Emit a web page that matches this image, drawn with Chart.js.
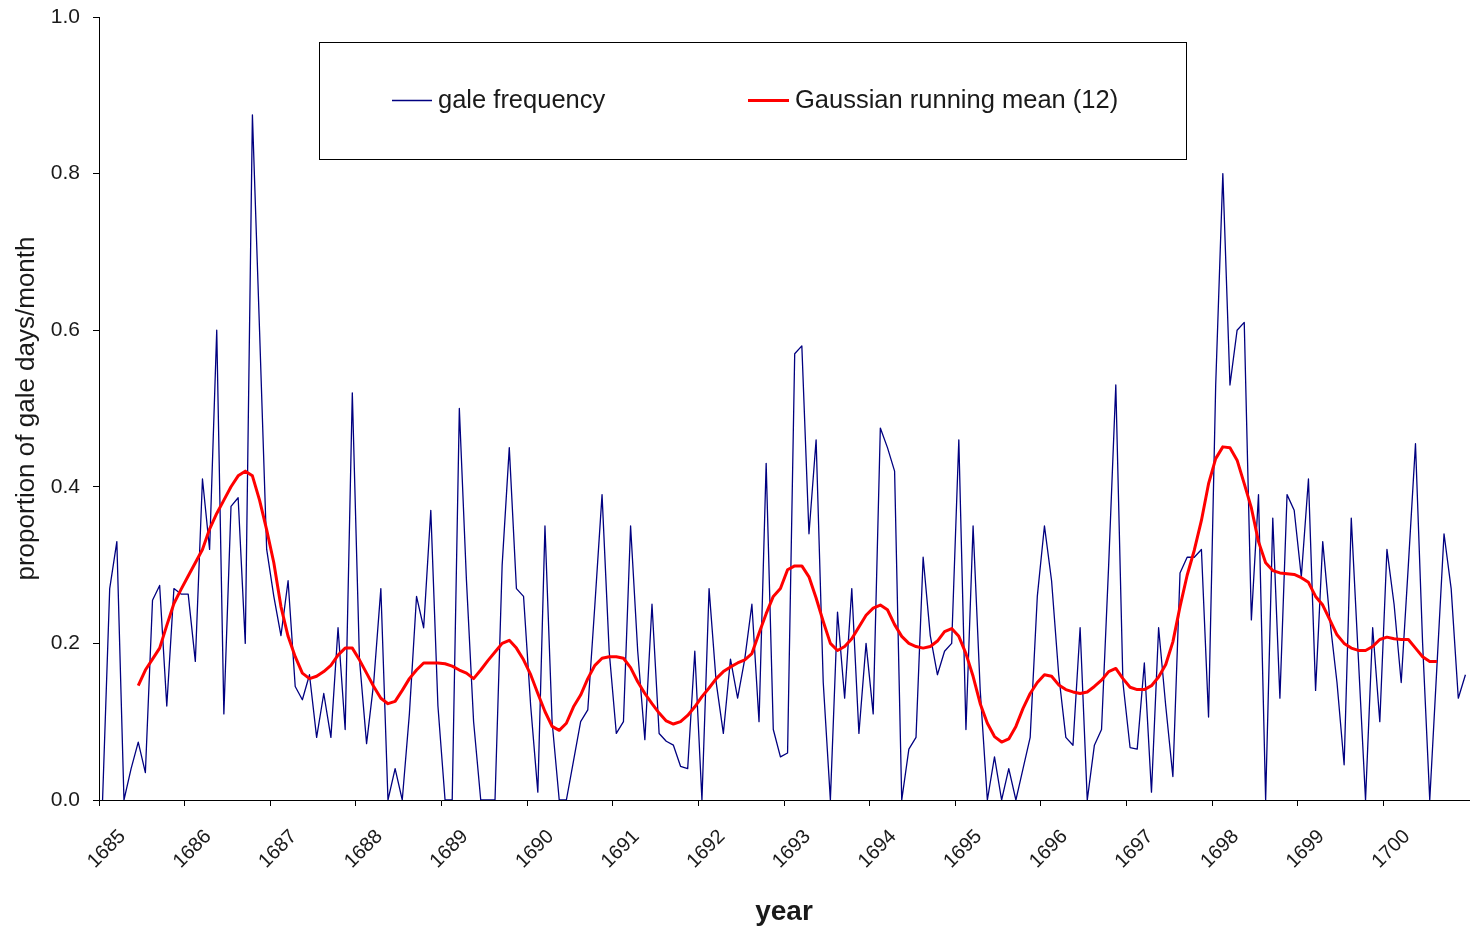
<!DOCTYPE html>
<html>
<head>
<meta charset="utf-8">
<title>Gale frequency 1685-1700</title>
<script src="https://cdn.jsdelivr.net/npm/chart.js@4.4.1/dist/chart.umd.min.js"></script>
<style>
  html, body { margin: 0; padding: 0; background: #fff; }
  #wrap { width: 1472px; height: 934px; position: relative; }
</style>
</head>
<body>
<div id="wrap"><canvas id="galeChart"></canvas></div>
<script>
// tick labels (one per year) and monthly categories
const tickYears = ['1685', '1686', '1687', '1688', '1689', '1690', '1691', '1692',
                   '1693', '1694', '1695', '1696', '1697', '1698', '1699', '1700'];
const monthNums = ['01', '02', '03', '04', '05', '06', '07', '08', '09', '10', '11', '12'];
const months = tickYears.flatMap(y => monthNums.map(m => y + '-' + m));

// proportion of gale days per month
const galeFrequency = [
  0.0, 0.27, 0.33, 0.0, 0.04, 0.074, 0.035, 0.255, 0.274, 0.12, 0.27, 0.263,
  0.263, 0.177, 0.41, 0.32, 0.6, 0.11, 0.375, 0.386, 0.2, 0.875, 0.6, 0.32,
  0.26, 0.21, 0.28, 0.145, 0.128, 0.16, 0.08, 0.136, 0.08, 0.22, 0.09, 0.52,
  0.18, 0.072, 0.15, 0.27, 0.0, 0.04, 0.0, 0.11, 0.26, 0.22, 0.37, 0.12,
  0.0, 0.0, 0.5, 0.28, 0.1, 0.0, 0.0, 0.0, 0.3, 0.45, 0.27, 0.26,
  0.12, 0.01, 0.35, 0.1, 0.0, 0.0, 0.05, 0.1, 0.115, 0.25, 0.39, 0.19,
  0.085, 0.1, 0.35, 0.19, 0.077, 0.25, 0.085, 0.075, 0.07, 0.043, 0.04, 0.19,
  0.0, 0.27, 0.15, 0.085, 0.18, 0.13, 0.18, 0.25, 0.1, 0.43, 0.09, 0.055,
  0.06, 0.57, 0.58, 0.34, 0.46, 0.15, 0.0, 0.24, 0.13, 0.27, 0.085, 0.2,
  0.11, 0.475, 0.45, 0.42, 0.0, 0.065, 0.08, 0.31, 0.21, 0.16, 0.19, 0.2,
  0.46, 0.09, 0.35, 0.14, 0.0, 0.055, 0.0, 0.04, 0.0, 0.04, 0.08, 0.26,
  0.35, 0.28, 0.16, 0.08, 0.07, 0.22, 0.0, 0.07, 0.09, 0.3, 0.53, 0.15,
  0.067, 0.065, 0.175, 0.01, 0.22, 0.12, 0.03, 0.29, 0.31, 0.31, 0.32, 0.106,
  0.53, 0.8, 0.53, 0.6, 0.61, 0.23, 0.39, 0.0, 0.36, 0.13, 0.39, 0.37,
  0.285, 0.41, 0.14, 0.33, 0.23, 0.15, 0.045, 0.36, 0.18, 0.0, 0.22, 0.1,
  0.32, 0.25, 0.15, 0.3, 0.455, 0.2, 0.0, 0.17, 0.34, 0.27, 0.13, 0.16
];

// Gaussian running mean (12), no value at the ends
const runningMean = [
  null, null, null, null, null, 0.146, 0.166, 0.18, 0.194, 0.223, 0.251, 0.269,
  0.286, 0.303, 0.32, 0.346, 0.366, 0.383, 0.4, 0.414, 0.42, 0.414, 0.383, 0.345,
  0.303, 0.247, 0.209, 0.183, 0.162, 0.155, 0.158, 0.164, 0.172, 0.185, 0.194, 0.194,
  0.179, 0.162, 0.145, 0.13, 0.123, 0.126, 0.14, 0.155, 0.166, 0.175, 0.175, 0.175,
  0.174, 0.171, 0.166, 0.162, 0.155, 0.166, 0.178, 0.189, 0.2, 0.204, 0.194, 0.179,
  0.16, 0.136, 0.113, 0.094, 0.089, 0.098, 0.119, 0.134, 0.155, 0.172, 0.181, 0.183,
  0.183, 0.181, 0.169, 0.151, 0.136, 0.123, 0.111, 0.101, 0.097, 0.1, 0.108, 0.119,
  0.132, 0.143, 0.155, 0.164, 0.17, 0.175, 0.179, 0.187, 0.213, 0.238, 0.26, 0.27,
  0.294, 0.299, 0.299, 0.285, 0.258, 0.228, 0.2, 0.191, 0.196, 0.206, 0.221, 0.236,
  0.245, 0.249, 0.243, 0.224, 0.209, 0.2, 0.196, 0.194, 0.196, 0.203, 0.215, 0.219,
  0.209, 0.187, 0.158, 0.123, 0.098, 0.081, 0.074, 0.078, 0.094, 0.117, 0.136, 0.15,
  0.16, 0.158, 0.147, 0.141, 0.138, 0.136, 0.138, 0.145, 0.153, 0.164, 0.168, 0.155,
  0.144, 0.141, 0.141, 0.146, 0.157, 0.173, 0.202, 0.247, 0.287, 0.319, 0.357, 0.404,
  0.436, 0.451, 0.45, 0.434, 0.404, 0.373, 0.33, 0.303, 0.293, 0.29, 0.289, 0.288,
  0.284, 0.278, 0.26, 0.249, 0.23, 0.211, 0.2, 0.194, 0.191, 0.191, 0.196, 0.205,
  0.208, 0.206, 0.205, 0.205, 0.194, 0.183, 0.177, 0.177, null, null, null, null
];

const yTicks = [0, 0.2, 0.4, 0.6, 0.8, 1.0];

const FONT = "'Liberation Sans', Arial, sans-serif";
const TEXT = '#1a1a1a';

// boxed legend drawn inside the plot, like the original
const boxedLegend = {
  id: 'boxedLegend',
  afterDraw(chart) {
    const c = chart.ctx;
    const ds = chart.data.datasets;
    c.save();
    c.fillStyle = '#fff';
    c.fillRect(319, 42, 867, 117);
    c.strokeStyle = '#000';
    c.lineWidth = 1;
    c.strokeRect(319.5, 42.5, 867, 117);

    const entries = [
      { ds: ds[0], x0: 392, x1: 432, tx: 438 },
      { ds: ds[1], x0: 748, x1: 789, tx: 795 }
    ];
    c.font = '25.5px ' + FONT;
    c.textBaseline = 'middle';
    c.textAlign = 'left';
    entries.forEach(e => {
      c.strokeStyle = e.ds.borderColor;
      c.lineWidth = e.ds.borderWidth;
      c.beginPath();
      c.moveTo(e.x0, 100.5);
      c.lineTo(e.x1, 100.5);
      c.stroke();
      c.fillStyle = TEXT;
      c.fillText(e.ds.label, e.tx, 101);
    });
    c.restore();
  }
};

document.addEventListener('DOMContentLoaded', function () {
  const ctx = document.getElementById('galeChart').getContext('2d');
  new Chart(ctx, {
    type: 'line',
    data: {
      labels: months,
      datasets: [{
        label: 'gale frequency',
        data: galeFrequency,
        borderColor: '#000080',
        borderWidth: 1.3,
        order: 1
      }, {
        label: 'Gaussian running mean (12)',
        data: runningMean,
        borderColor: '#ff0000',
        borderWidth: 3,
        order: 0
      }]
    },
    options: {
      responsive: true,
      maintainAspectRatio: false,
      animation: false,
      events: [],
      layout: { padding: { left: 0, top: 17, right: 3, bottom: 0 } },
      elements: {
        point: { radius: 0 },
        line: { tension: 0, borderJoinStyle: 'round' }
      },
      plugins: {
        legend: { display: false },
        tooltip: { enabled: false }
      },
      scales: {
        x: {
          type: 'category',
          offset: true,
          grid: {
            offset: true,
            drawOnChartArea: false,
            drawTicks: true,
            tickLength: 6,
            // one tick mark per year, on the boundary before January
            color: c => (c.type === 'tick' && c.index % 12 === 0) ? '#000' : 'rgba(0,0,0,0)'
          },
          border: { display: true, color: '#000', width: 1 },
          ticks: {
            autoSkip: false,
            minRotation: 45,
            maxRotation: 45,
            labelOffset: 20,
            padding: 19,
            color: TEXT,
            font: { family: FONT, size: 20 },
            callback: function (value, index) {
              return index % 12 === 0 ? this.getLabelForValue(value).slice(0, 4) : '';
            }
          },
          title: {
            display: true,
            text: 'year',
            color: TEXT,
            font: { family: FONT, size: 28, weight: 'bold' },
            padding: { top: 0, bottom: 5 }
          },
          afterFit: function (scale) {
            scale.height = 134;
            scale.paddingLeft = 0;
            scale.paddingRight = 0;
          }
        },
        y: {
          min: 0,
          max: 1,
          afterBuildTicks: function (scale) {
            scale.ticks = yTicks.map(v => ({ value: v }));
          },
          grid: {
            drawOnChartArea: false,
            drawTicks: true,
            tickLength: 6,
            color: '#000'
          },
          border: { display: true, color: '#000', width: 1 },
          ticks: {
            padding: 13,
            color: TEXT,
            font: { family: FONT, size: 21 },
            callback: v => v.toFixed(1)
          },
          title: {
            display: true,
            text: 'proportion of gale days/month',
            color: TEXT,
            font: { family: FONT, size: 26 },
            padding: { top: 11, bottom: 0 }
          },
          afterFit: function (scale) {
            scale.width = 99;
            scale.paddingTop = 0;
            scale.paddingBottom = 0;
          }
        }
      }
    },
    plugins: [boxedLegend]
  });
});
</script>
</body>
</html>
